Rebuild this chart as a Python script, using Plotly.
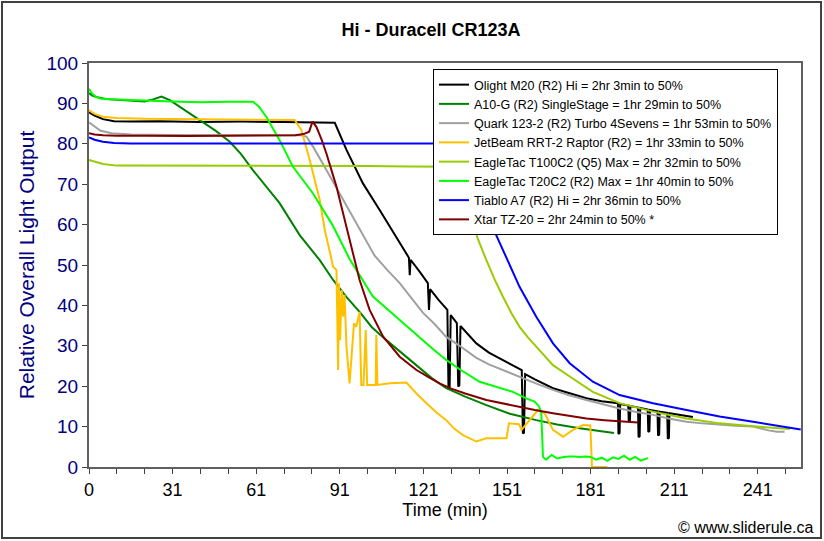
import plotly.graph_objects as go

# ---------------- data (time in min, relative output %) ----------------
olight_t = [0, 2, 5, 9, 15, 25, 40, 55, 70, 80,
            88.2, 92.4, 98.3, 104.3, 110.3, 114.8, 115.1, 115.4, 118.7, 121.6,
            122.0, 122.4, 125.5, 128.6, 129.0, 129.4, 129.8, 132.0, 132.5, 132.9,
            133.3, 136, 139, 143.5, 148.5, 152, 155.3, 155.7, 156.1, 156.5,
            160, 166.5, 172, 178.5, 184, 189.8, 190.0, 190.4, 190.6, 193.5,
            193.7, 194.1, 194.3, 197.0, 197.2, 197.6, 197.8, 200.5, 200.7, 201.1,
            201.3, 204.0, 204.2, 204.6, 204.8, 207.5, 207.7, 208.1, 208.3, 212,
            216.7]
olight_v = [87.8, 87.0, 86.1, 85.6, 85.5, 85.6, 85.4, 85.5, 85.4, 85.3,
            85.2, 78.5, 70.2, 63.6, 57.0, 51.8, 47.5, 51.3, 48.3, 45.5,
            38.9, 44.0, 41.3, 38.9, 19.5, 19.5, 37.6, 35.6, 19.9, 20.2,
            34.9, 32.8, 30.6, 28.3, 26.5, 25.1, 24.0, 8.3, 8.5, 23.0,
            21.7, 19.5, 18.3, 17.0, 16.3, 15.8, 8.2, 8.4, 15.6, 15.2,
            11.2, 11.4, 15.1, 14.7, 7.4, 7.6, 14.6, 14.2, 8.7, 8.9,
            14.1, 13.8, 7.8, 8.0, 13.7, 13.4, 7.0, 7.2, 13.3, 12.9,
            12.4]

a10g_t = [0, 1, 3, 6, 10, 15, 20, 23, 26, 29,
          32.5, 36.5, 40.9, 45.5, 50.5, 54.5, 58.8, 63.5, 68.4, 75.6,
          82.8, 87.6, 92.5, 97.1, 101.5, 106.7, 112, 117.5, 123, 128.2,
          135, 142.6, 151, 160.5, 168, 176, 182, 188.4]
a10g_v = [92.6, 92.0, 91.5, 91.1, 90.9, 90.7, 90.5, 91.0, 91.7, 90.8,
          89.2, 87.5, 85.5, 83.2, 80.5, 77.5, 73.5, 69.5, 65.3, 57.4,
          51.2, 46.3, 42.0, 38.4, 34.6, 31.4, 28.3, 25.0, 22.0, 19.5,
          17.4, 15.3, 13.2, 11.6, 10.5, 9.6, 9.0, 8.4]

quark_t = [0, 2, 4, 8, 15, 30, 45, 60, 70, 76,
           78, 80.4, 85.2, 90, 96, 102.5, 107, 111.5, 115.5, 119.8,
           124, 128.2, 133, 139, 143.5, 148.5, 155.7, 161, 166.5, 172,
           178.5, 184, 190.4, 196, 202.4, 208, 214.4, 220, 226.3, 232,
           238.3, 241, 244.2, 247, 249.6]
quark_v = [85.3, 84.4, 83.3, 82.6, 82.3, 82.2, 82.2, 82.1, 82.2, 82.1,
           81.8, 79.3, 73.5, 67.7, 60.5, 52.3, 48.8, 45.5, 42.0, 38.2,
           35.4, 32.2, 30.0, 27.0, 25.4, 24.0, 21.8, 20.5, 19.1, 17.8,
           16.6, 15.6, 14.5, 13.7, 12.9, 12.0, 11.2, 10.8, 10.4, 10.2,
           10.0, 9.5, 9.0, 8.7, 8.7]

jetbeam_t = [0, 2, 5, 10, 20, 35, 50, 65, 73.8, 76.2,
             79.2, 82.8, 84.6, 86.4, 87.6, 88.8, 89.4, 89.7, 90.1, 90.7,
             91.2, 91.7, 92.4, 93.5, 94.2, 95.1, 95.9, 97.1, 97.7, 98.5,
             99.3, 99.8, 102.9, 103.1, 103.5, 108, 113.9, 117.5, 121.1, 124.7,
             128.2, 131, 134.2, 139, 142.6, 149.8, 150.7, 154.3, 155.2, 158.1,
             161.1, 163.5, 166.5, 170.1, 173.7, 177.3, 179.9, 180.5, 186]
jetbeam_v = [88.3, 87.4, 86.7, 86.4, 86.2, 86.1, 86.1, 86.0, 85.9, 83.4,
             76.0, 66.1, 58.7, 53.3, 49.6, 48.8, 24.0, 45.5, 31.4, 43.8,
             37.2, 42.6, 29.8, 20.7, 28.1, 35.6, 34.7, 38.4, 20.3, 20.3,
             33.9, 20.3, 20.3, 32.7, 20.3, 20.7, 20.9, 18.2, 15.8, 13.5,
             11.6, 9.5, 7.9, 6.3, 7.1, 7.1, 10.8, 10.6, 9.2, 11.6,
             14.1, 13.3, 9.2, 7.5, 9.2, 10.4, 10.3, 0, 0]

t100_t = [0, 2, 5, 10, 20, 40, 60, 80, 100, 115,
          125, 131.5, 134, 136.6, 139.5, 142.6, 145.5, 148.5, 151.5, 154.5,
          157.5, 160.5, 166.5, 172.5, 180.8, 190.4, 202.4, 214.4, 226.3, 238.3,
          245, 251.5]
t100_v = [76.0, 75.6, 75.0, 74.6, 74.6, 74.5, 74.6, 74.5, 74.5, 74.4,
          74.4, 74.3, 68.8, 62.8, 56.5, 51.2, 46.5, 42.2, 38.2, 34.7,
          32.1, 29.8, 25.2, 22.4, 18.6, 15.8, 13.7, 12.0, 10.8, 10.1,
          9.7, 9.4]

t20_t = [0, 1, 2.5, 4, 8, 14, 20, 30, 40, 50,
         56, 58.9, 61, 63.6, 68.4, 73.2, 80.4, 87.3, 93.5, 101.9,
         111.5, 118.7, 123.4, 128.2, 133, 140.2, 146, 152.1, 156.9, 159.9,
         161.5, 162.3, 162.9, 164, 166, 168, 170, 172, 174, 176,
         178, 180, 182, 184, 186, 188, 190, 192, 194, 196,
         198, 200.6]
t20_v = [93.6, 92.5, 91.6, 91.2, 91.0, 90.8, 90.7, 90.5, 90.3, 90.4,
         90.5, 90.4, 89.2, 86.7, 80.9, 74.3, 67.7, 60.0, 51.5, 42.2,
         36.4, 32.0, 29.2, 26.5, 24.2, 21.1, 19.8, 18.6, 17.0, 16.2,
         15.0, 13.3, 2.5, 1.8, 3.0, 2.1, 2.4, 2.6, 2.6, 2.5,
         2.6, 2.5, 1.8, 2.3, 1.5, 2.4, 2.0, 2.8, 1.8, 2.5,
         1.6, 2.2]

tiablo_t = [0, 2, 5, 9, 15, 30, 50, 70, 90, 110,
            125, 130, 134, 138, 142.6, 148.5, 154.5, 160.5, 166.5, 172.5,
            180.8, 190.4, 202.4, 214.4, 226.3, 238.3, 247, 255.4]
tiablo_v = [81.6, 81.0, 80.5, 80.2, 80.1, 80.1, 80.2, 80.1, 80.1, 80.1,
            80.1, 80.1, 77.5, 71.0, 62.8, 53.7, 44.6, 37.2, 30.6, 25.7,
            21.1, 17.8, 15.8, 14.1, 12.5, 11.2, 10.2, 9.3]

xtar_t = [0, 2, 5, 10, 20, 35, 50, 65, 74, 77,
          79, 80.2, 81.6, 83.5, 85.2, 88.8, 92.4, 94.7, 97.1, 100.7,
          105.5, 111.5, 117.5, 122, 125.8, 130, 135, 142.6, 148, 154.5,
          160, 166.5, 172, 178.5, 185, 191, 197]
xtar_v = [82.6, 82.3, 82.1, 82.0, 82.0, 81.9, 82.0, 82.0, 82.1, 82.4,
          83.0, 85.5, 84.2, 81.0, 77.6, 69.4, 59.5, 52.5, 46.3, 38.9,
          32.3, 27.3, 24.0, 22.2, 20.7, 19.4, 18.2, 16.6, 15.8, 14.9,
          14.1, 13.3, 12.7, 12.0, 11.6, 11.3, 11.0]

series_names = [
    "Olight M20 (R2) Hi = 2hr 3min to 50%",
    "A10-G (R2) SingleStage = 1hr 29min to 50%",
    "Quark 123-2 (R2) Turbo 4Sevens = 1hr 53min to 50%",
    "JetBeam RRT-2 Raptor (R2) = 1hr 33min to 50%",
    "EagleTac T100C2 (Q5) Max = 2hr 32min to 50%",
    "EagleTac T20C2 (R2) Max = 1hr 40min to 50%",
    "Tiablo A7 (R2) Hi = 2hr 36min to 50%",
    "Xtar TZ-20 = 2hr 24min to 50% *",
]
series_t = [olight_t, a10g_t, quark_t, jetbeam_t, t100_t, t20_t, tiablo_t, xtar_t]
series_v = [olight_v, a10g_v, quark_v, jetbeam_v, t100_v, t20_v, tiablo_v, xtar_v]
series_colors = ["#000000", "#008000", "#A0A0A0", "#FFC000",
                 "#99CC00", "#00FF00", "#0000FF", "#800000"]

x_tick_positions = [0, 30, 60, 90, 120, 150, 180, 210, 240]
x_tick_labels = ["0", "31", "61", "91", "121", "151", "181", "211", "241"]

# ---------------- figure ----------------
FONT = "Arial, Liberation Sans, sans-serif"
fig = go.Figure()
for name, t, v, c in zip(series_names, series_t, series_v, series_colors):
    fig.add_trace(go.Scatter(x=t, y=v, mode="lines", name=name,
                             line=dict(color=c, width=2)))

tickvals = list(range(0, 251, 10))
ticktext = [x_tick_labels[x_tick_positions.index(tv)] if tv in x_tick_positions else ""
            for tv in tickvals]

fig.update_layout(
    width=824, height=541,
    margin=dict(l=89, r=23, t=63, b=74),
    paper_bgcolor="white", plot_bgcolor="white",
    font=dict(family=FONT, color="black"),
    title=dict(text="Hi - Duracell CR123A", x=431 / 824, xanchor="center",
               y=1 - 30 / 541, yanchor="middle",
               font=dict(size=18, family=FONT, color="black", weight="bold")),
    showlegend=True,
    legend=dict(x=(433 - 89) / 712, y=(467 - 69) / 404, xanchor="left", yanchor="top",
                bgcolor="white", bordercolor="black", borderwidth=1,
                font=dict(size=12.5, family=FONT, color="black"),
                tracegroupgap=0, itemwidth=30),
    xaxis=dict(range=[0, 255.5], tickmode="array", tickvals=tickvals, ticktext=ticktext,
               ticks="outside", ticklen=5, tickcolor="#404040", tickwidth=1,
               showgrid=False, zeroline=False,
               showline=True, linecolor="#606060", linewidth=2, mirror=True,
               tickfont=dict(size=18, color="black"),
               title=dict(text="Time (min)", font=dict(size=18, color="black"), standoff=4)),
    yaxis=dict(range=[0, 100], tickmode="linear", tick0=0, dtick=10,
               ticks="outside", ticklen=5, tickcolor="#404040", tickwidth=1,
               showgrid=False, zeroline=False,
               showline=True, linecolor="#606060", linewidth=2, mirror=True,
               tickfont=dict(size=19, color="#000080"),
               title=dict(text="Relative Overall Light Output",
                          font=dict(size=21, color="#000080"), standoff=6)),
    shapes=[dict(type="rect", xref="paper", yref="paper",
                 x0=(2 - 89) / 712, x1=(821 - 89) / 712,
                 y0=(467 - 538) / 404, y1=(467 - 2) / 404,
                 line=dict(color="#404040", width=2), fillcolor="rgba(0,0,0,0)")],
    annotations=[dict(text="© www.sliderule.ca", xref="paper", yref="paper",
                      x=(815 - 89) / 712, y=(467 - 527) / 404,
                      xanchor="right", yanchor="middle", showarrow=False,
                      font=dict(size=16, family=FONT, color="black"))],
)

fig.write_html("out.html", config={"displayModeBar": False},
               post_script="document.body.style.margin='0px';")
